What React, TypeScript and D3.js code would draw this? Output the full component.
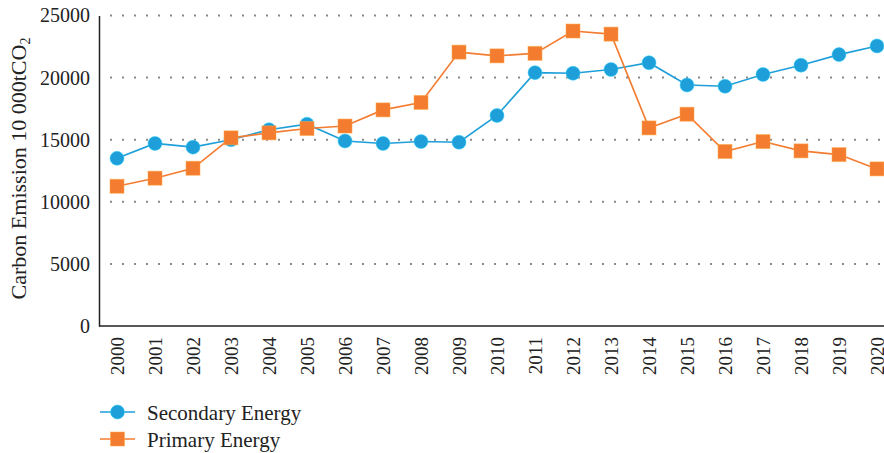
import React, { useEffect, useRef } from 'react';
import * as d3 from 'd3';

const years = ['2000', '2001', '2002', '2003', '2004', '2005', '2006', '2007', '2008', '2009', '2010',
  '2011', '2012', '2013', '2014', '2015', '2016', '2017', '2018', '2019', '2020'];
const secondaryEnergy = [13500, 14700, 14400, 15000, 15800, 16250, 14900, 14700, 14850, 14800, 16950,
  20400, 20350, 20650, 21200, 19400, 19300, 20250, 21000, 21850, 22550];
const primaryEnergy = [11250, 11900, 12700, 15150, 15550, 15900, 16100, 17400, 18000, 22050, 21750,
  21950, 23750, 23500, 15950, 17050, 14050, 14850, 14100, 13800, 12650];
const yTicks = [0, 5000, 10000, 15000, 20000, 25000];

const BLUE = '#1f9fd9';
const ORANGE = '#f47c30';
const FONT = '"Liberation Serif", "Times New Roman", serif';

const App = () => {
  const svgRef = useRef<SVGSVGElement>(null);

  useEffect(() => {
    const width = 884;
    const height = 453;
    const left = 99, top = 15.5, bottom = 326, right = 884;

    const svg = d3.select(svgRef.current);
    svg.selectAll('*').remove();
    svg.attr('width', width).attr('height', height);

    const x = d3.scalePoint().domain(years).range([117, 877]);
    const y = d3.scaleLinear().domain([0, 25000]).range([bottom, top]);

    // dotted grid
    svg.append('g')
      .selectAll('line')
      .data(yTicks.filter(d => d > 0))
      .enter()
      .append('line')
      .attr('x1', left + 11)
      .attr('x2', right)
      .attr('y1', d => y(d))
      .attr('y2', d => y(d))
      .attr('stroke', '#8a8a8a')
      .attr('stroke-width', 2)
      .attr('stroke-dasharray', '2 10');

    // y axis
    const yAxis = svg.append('g')
      .attr('transform', `translate(${left},0)`)
      .call(d3.axisLeft(y).tickValues(yTicks).tickSize(0).tickPadding(9).tickFormat(d => String(d)));
    yAxis.select('path.domain').attr('stroke', '#222').attr('stroke-width', 1.5);
    yAxis.selectAll('text')
      .style('font-family', FONT)
      .style('font-size', '20px')
      .attr('fill', '#222');

    // x axis
    const xAxis = svg.append('g')
      .attr('transform', `translate(0,${bottom})`)
      .call(d3.axisBottom(x).tickSize(0).tickPadding(0));
    xAxis.select('path.domain').attr('d', `M${left},0H${right}`).attr('stroke', '#222').attr('stroke-width', 1.5);
    xAxis.selectAll('text')
      .style('font-family', FONT)
      .style('font-size', '19px')
      .attr('fill', '#222')
      .attr('transform', 'rotate(-90)')
      .attr('text-anchor', 'end')
      .attr('x', -11)
      .attr('y', 0)
      .attr('dy', '0.33em');

    // y title
    const title = svg.append('text')
      .attr('transform', 'translate(25.5,168.5) rotate(-90)')
      .attr('text-anchor', 'middle')
      .style('font-family', FONT)
      .style('font-size', '22px')
      .attr('fill', '#222');
    title.append('tspan').text('Carbon Emission 10 000tCO');
    title.append('tspan').style('font-size', '14px').attr('dy', 4).text('2');

    const series = [
      { name: 'Secondary Energy', values: secondaryEnergy, color: BLUE, shape: 'circle' },
      { name: 'Primary Energy', values: primaryEnergy, color: ORANGE, shape: 'square' }
    ];

    const line = d3.line<number>()
      .x((_, i) => x(years[i]) as number)
      .y(d => y(d));

    const drawMarker = (g, shape, color, cx, cy) => {
      if (shape === 'circle') {
        g.append('circle')
          .attr('cx', cx).attr('cy', cy).attr('r', 7)
          .attr('fill', color)
          .attr('stroke', d3.color(color).brighter(0.8).formatHex())
          .attr('stroke-opacity', 0.5)
          .attr('stroke-width', 1);
      } else {
        g.append('rect')
          .attr('x', cx - 7).attr('y', cy - 7)
          .attr('width', 14).attr('height', 14)
          .attr('fill', color)
          .attr('stroke', d3.color(color).brighter(0.8).formatHex())
          .attr('stroke-opacity', 0.5)
          .attr('stroke-width', 1);
      }
    };

    series.forEach(s => {
      const g = svg.append('g');
      g.append('path')
        .datum(s.values)
        .attr('d', line)
        .attr('fill', 'none')
        .attr('stroke', s.color)
        .attr('stroke-width', 1.6);
      s.values.forEach((v, i) => drawMarker(g, s.shape, s.color, x(years[i]), y(v)));
    });

    // legend
    series.forEach((s, i) => {
      const ly = 412 + i * 27;
      const g = svg.append('g');
      g.append('line')
        .attr('x1', 100).attr('x2', 135)
        .attr('y1', ly).attr('y2', ly)
        .attr('stroke', s.color).attr('stroke-width', 1.6);
      drawMarker(g, s.shape, s.color, 117.5, ly);
      g.append('text')
        .attr('x', 147)
        .attr('y', ly)
        .attr('dy', '0.38em')
        .style('font-family', FONT)
        .style('font-size', '21px')
        .attr('fill', '#222')
        .text(s.name);
    });
  }, []);

  return (
    <svg ref={svgRef} style={{ position: 'absolute', left: 0, top: 0, background: '#fff' }}></svg>
  );
};

export default App;
